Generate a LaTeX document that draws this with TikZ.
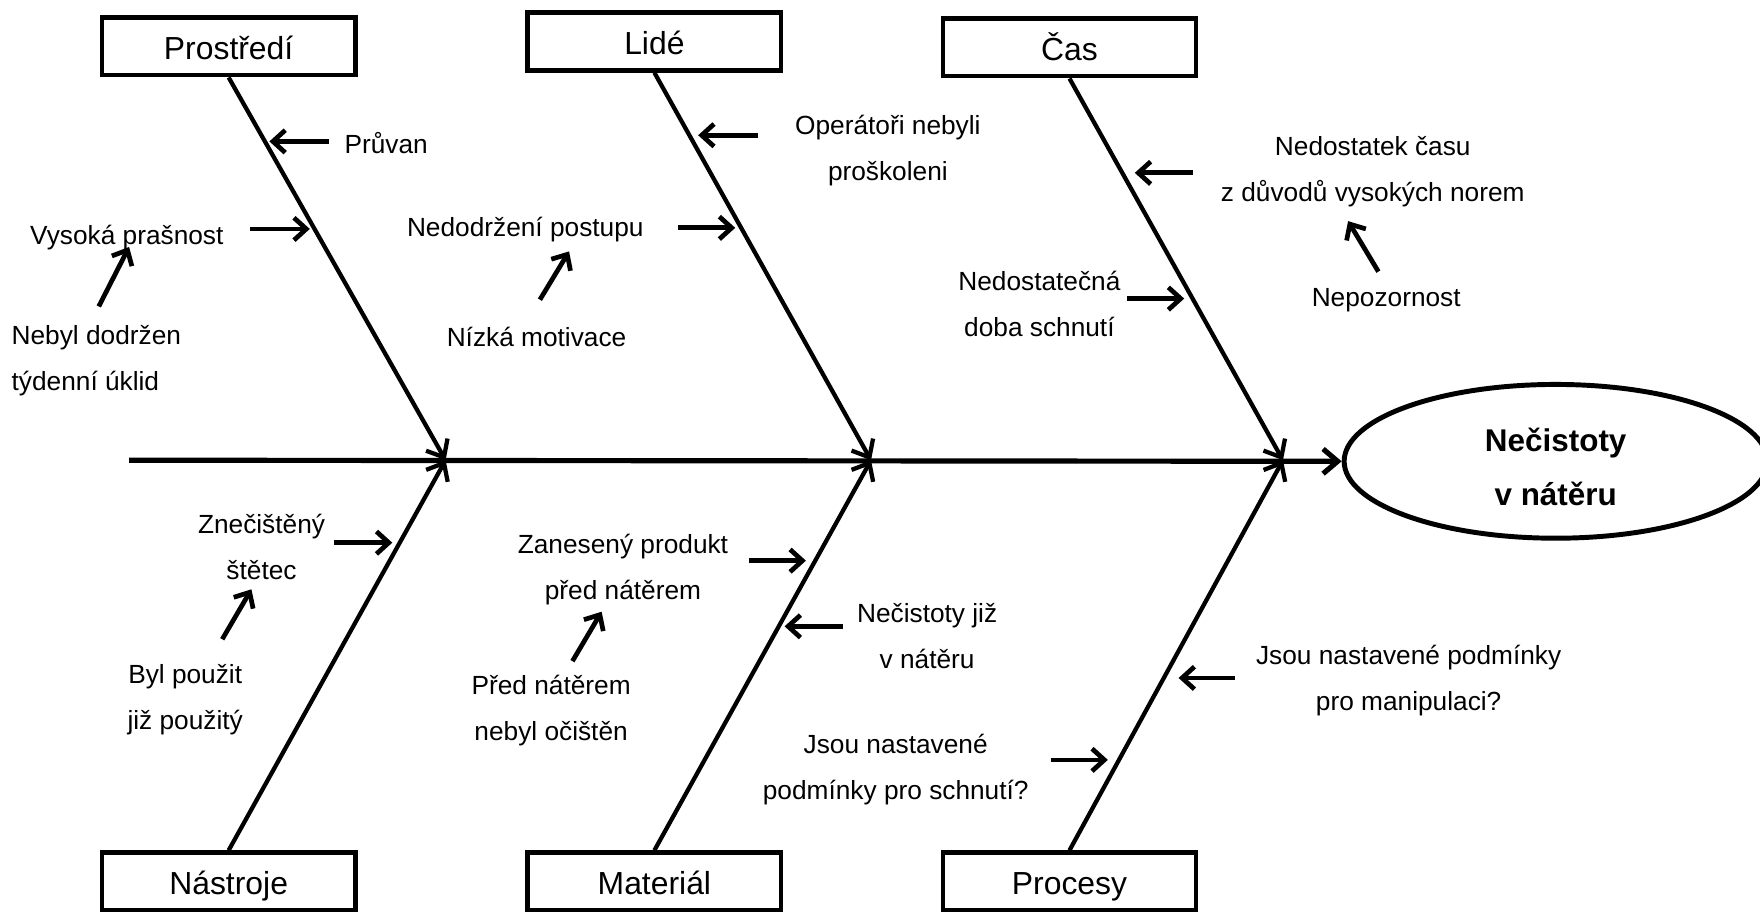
\documentclass[tikz,border=0pt]{standalone}
\usepackage{fontspec}
\setmainfont{Liberation Sans}
\usetikzlibrary{arrows.meta,shapes.geometric}
\begin{document}
\begin{tikzpicture}[x=0.5pt,y=-0.5pt,
  category/.style={draw, line width=2.1pt, inner sep=0pt, minimum width=112.8pt,
    minimum height=25.8pt, text height=12pt, text depth=0.3pt,
    font=\fontsize{14.2}{17}\selectfont},
  cause/.style={inner sep=0pt, align=center, font=\fontsize{11.7}{20.5}\selectfont},
  bone/.style={line width=1.9pt, -{Straight Barb[length=6.5pt,width=11pt]}},
  spine/.style={line width=2.3pt, -{Straight Barb[length=6.5pt,width=11pt]}},
  sub/.style={line width=2.1pt, -{Straight Barb[length=5.5pt,width=10pt]}},
  effect/.style={draw, ellipse, line width=2.2pt, inner sep=0pt, minimum width=188.5pt,
    minimum height=68.5pt, align=center, font=\bfseries\fontsize{14}{24}\selectfont}]
\useasboundingbox (0,0) rectangle (1568,812);

% category boxes
\node[category] (env)  at (203.7,41.1)  {Prostředí};
\node[category] (ppl)  at (583,36.8)    {Lidé};
\node[category] (time) at (952.8,42)    {Čas};
\node[category] (tool) at (203.7,785.5) {Nástroje};
\node[category] (mat)  at (583,785.5)   {Materiál};
\node[category] (proc) at (952.8,785.5) {Procesy};

% effect (the strut lowers the two lines a little inside the ellipse)
\node[effect] (goal) at (1386,411) {\rule{0pt}{15.6pt}Nečistoty\\v nátěru};

% spine and bones
\coordinate (tail) at (115,410);
\coordinate (j1) at (397,410);
\coordinate (j2) at (776,410);
\coordinate (j3) at (1143,410);
\draw[spine] (tail) -- (goal.west);
\draw[bone] (env.south)  -- (j1);
\draw[bone] (ppl.south)  -- (j2);
\draw[bone] (time.south) -- (j3);
\draw[bone] (tool.north) -- (j1);
\draw[bone] (mat.north)  -- (j2);
\draw[bone] (proc.north) -- (j3);

% causes: Prostředí
\node[cause] (c1) at (344,127.5) {Průvan};
\node[cause] (c2) at (113,211.5) {Vysoká prašnost};
\node[cause, anchor=west, align=left] (c3) at (10,321) {Nebyl dodržen\\týdenní úklid};
\coordinate (c1s) at (293,126);   \coordinate (c1e) at (240,126);
\coordinate (c2s) at (223,204);   \coordinate (c2e) at (276,204);
\coordinate (c3s) at (88,273);    \coordinate (c3e) at (115,220);
\draw[sub] (c1s) -- (c1e);
\draw[sub] (c2s) -- (c2e);
\draw[sub] (c3s) -- (c3e);

% causes: Lidé
\node[cause] (c4) at (791,134) {Operátoři nebyli\\proškoleni};
\node[cause] (c5) at (468,204.5) {Nedodržení postupu};
\node[cause] (c6) at (478,300.5) {Nízká motivace};
\coordinate (c4s) at (675,120.5); \coordinate (c4e) at (622,120.5);
\coordinate (c5s) at (604,203);   \coordinate (c5e) at (655,203);
\coordinate (c6s) at (481,267);   \coordinate (c6e) at (507,224);
\draw[sub] (c4s) -- (c4e);
\draw[sub] (c5s) -- (c5e);
\draw[sub] (c6s) -- (c6e);

% causes: Čas
\node[cause] (c7) at (1223,153) {Nedostatek času\\z důvodů vysokých norem};
\node[cause] (c8) at (1235,267.5) {Nepozornost};
\node[cause] (c9) at (926,270.5) {Nedostatečná\\doba schnutí};
\coordinate (c7s) at (1063,154);  \coordinate (c7e) at (1011,154);
\coordinate (c8s) at (1228,242);  \coordinate (c8e) at (1201,197);
\coordinate (c9s) at (1004,266);  \coordinate (c9e) at (1055,266);
\draw[sub] (c7s) -- (c7e);
\draw[sub] (c8s) -- (c8e);
\draw[sub] (c9s) -- (c9e);

% causes: Nástroje
\node[cause] (c10) at (233,487) {Znečištěný\\štětec};
\node[cause] (c11) at (165,623.5) {Byl použit\\již použitý};
\coordinate (c10s) at (298,483.5); \coordinate (c10e) at (349.5,483.5);
\coordinate (c11s) at (198,569.5); \coordinate (c11e) at (224,525);
\draw[sub] (c10s) -- (c10e);
\draw[sub] (c11s) -- (c11e);

% causes: Materiál
\node[cause] (c12) at (555,507) {Zanesený produkt\\před nátěrem};
\node[cause] (c13) at (826,566.5) {Nečistoty již\\v nátěru};
\node[cause] (c14) at (491,633) {Před nátěrem\\nebyl očištěn};
\coordinate (c12s) at (667,499.5); \coordinate (c12e) at (718,499.5);
\coordinate (c13s) at (751,558);   \coordinate (c13e) at (699,558);
\coordinate (c14s) at (510,589);   \coordinate (c14e) at (536,545);
\draw[sub] (c12s) -- (c12e);
\draw[sub] (c13s) -- (c13e);
\draw[sub] (c14s) -- (c14e);

% causes: Procesy
\node[cause] (c15) at (1255,606) {Jsou nastavené podmínky\\pro manipulaci?};
\node[cause] (c16) at (798,685.5) {Jsou nastavené\\podmínky pro schnutí?};
\coordinate (c15s) at (1100,604); \coordinate (c15e) at (1050,604);
\coordinate (c16s) at (936,677);  \coordinate (c16e) at (987,677);
\draw[sub] (c15s) -- (c15e);
\draw[sub] (c16s) -- (c16e);
\end{tikzpicture}
\end{document}
